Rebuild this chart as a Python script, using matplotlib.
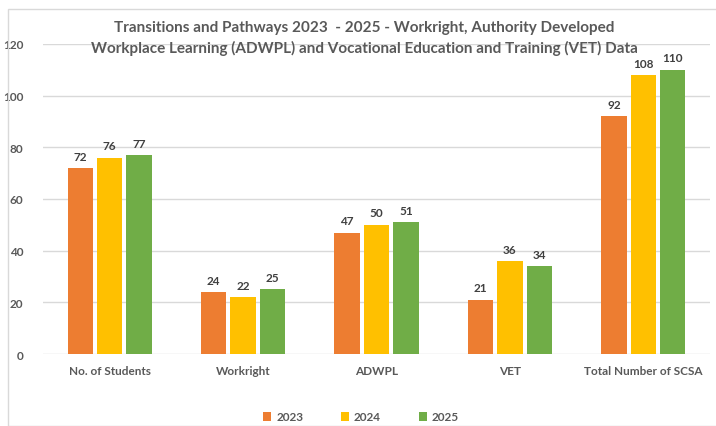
import matplotlib
matplotlib.use("Agg")
import matplotlib.pyplot as plt
import numpy as np
from matplotlib.patches import Rectangle

categories = ["No. of Students", "Workright", "ADWPL", "VET", "Total Number of SCSA"]
years = ["2023", "2024", "2025"]
v2023 = [72, 24, 47, 21, 92]
v2024 = [76, 22, 50, 36, 108]
v2025 = [77, 25, 51, 34, 110]
colors = ["#ED7D31", "#FFC000", "#70AD47"]

plt.rcParams['font.family'] = ['Lato', 'DejaVu Sans']
txt = "#595959"

fig = plt.figure(figsize=(7.16, 4.27), dpi=100)
fig.patches.append(Rectangle((8/716, 0), 1, 1 - 10/427, transform=fig.transFigure,
                             fill=False, edgecolor="#D9D9D9", linewidth=1))
ax = fig.add_axes([43/716, 1 - 355/427, (710-43)/716, (355-45)/427])

x = np.arange(len(categories))
w = 0.19
gap = 0.03
series = [v2023, v2024, v2025]
for i, (vals, c, y) in enumerate(zip(series, colors, years)):
    pos = x + (i - 1) * (w + gap)
    bars = ax.bar(pos, vals, width=w, color=c, label=y, zorder=3)
    for b, v in zip(bars, vals):
        ax.text(b.get_x() + b.get_width()/2, v + 2.5, str(v), ha="center", va="bottom",
                fontsize=8.5, fontweight="bold", color="#404040")

ax.set_xlim(-0.5, len(categories) - 0.5)
ax.set_ylim(0, 120)
ax.set_yticks(range(0, 121, 20))
ax.yaxis.grid(True, color="#D9D9D9", linewidth=1, zorder=0)
for s in ax.spines.values():
    s.set_visible(False)
ax.tick_params(axis="both", length=0, colors=txt, labelsize=8.5)
ax.tick_params(axis="y", pad=14)
ax.tick_params(axis="x", pad=8)
ax.set_xticks(x)
ax.set_xticklabels(categories, fontweight="bold")
for lab in ax.get_yticklabels():
    lab.set_fontweight("bold")

fig.text(364/716, 1 - 28/427, "Transitions and Pathways 2023  - 2025 - Workright, Authority Developed",
         ha="center", va="center", fontsize=11, fontweight="bold", color=txt)
fig.text(364/716, 1 - 48/427, "Workplace Learning (ADWPL) and Vocational Education and Training (VET) Data",
         ha="center", va="center", fontsize=11, fontweight="bold", color=txt)

leg = fig.legend(loc="center", bbox_to_anchor=(361/716, 1 - 418/427), ncol=3, frameon=False,
                 fontsize=8.5, handlelength=0.7, handleheight=0.7, columnspacing=3.2, handletextpad=0.4)
for t in leg.get_texts():
    t.set_color(txt)
    t.set_fontweight("bold")

fig.savefig("out.png", dpi=100)
